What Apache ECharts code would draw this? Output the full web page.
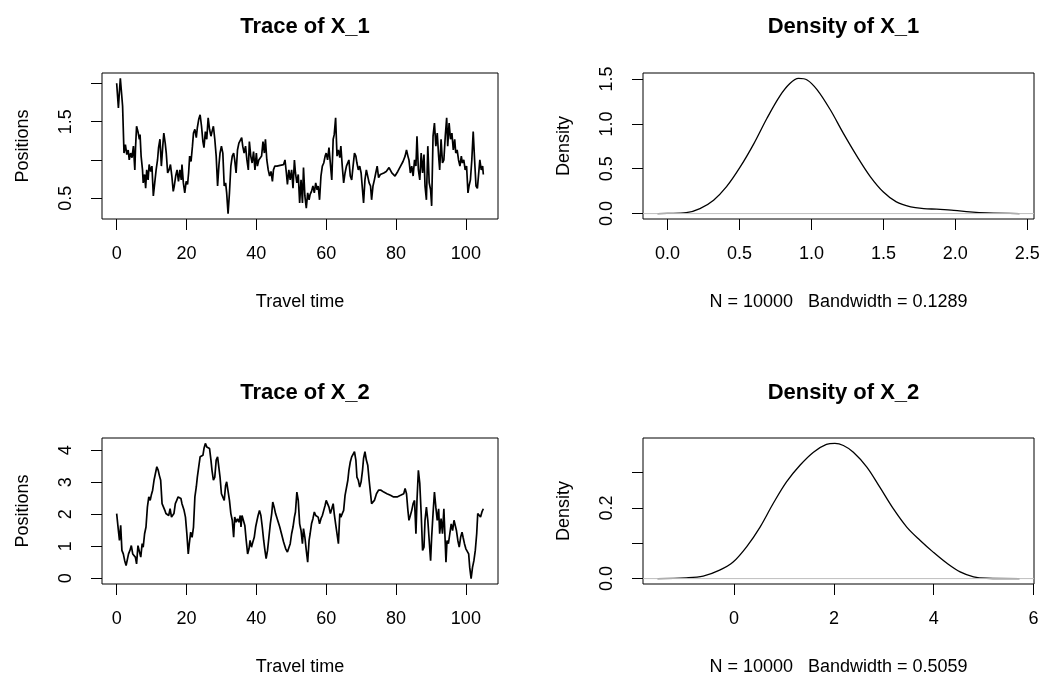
<!DOCTYPE html>
<html>
<head>
<meta charset="utf-8">
<title>MCMC diagnostics</title>
<script src="https://cdn.jsdelivr.net/npm/echarts@6/dist/echarts.min.js"></script>
<style>
  html, body { margin: 0; padding: 0; background: #fff; }
  #chart { width: 1047px; height: 677px; }
</style>
</head>
<body>
<div id="chart"></div>
<script>
// ---- Trace of X_1: travel time vs. position ----
const time1 = [0,0.5,0.8,1.05,1.4,1.7,2.1,2.5,2.9,3.3,3.6,4.0,4.4,4.8,5.2,5.4,5.7,6.1,6.5,6.7,7.0,7.4,7.6,8.0,8.3,8.6,9.0,9.3,9.75,10.1,10.5,10.9,11.3,11.7,12.0,12.4,12.8,13.2,13.5,13.9,14.2,14.6,15.0,15.4,15.8,16.2,16.5,16.9,17.3,17.7,18.1,18.5,18.7,19.1,19.5,19.9,20.3,20.6,20.9,21.3,21.7,22.0,22.4,22.8,23.1,23.5,23.9,24.3,24.7,25.0,25.4,25.8,26.2,26.6,27.0,27.3,27.7,28.1,28.5,28.9,29.3,29.6,30.0,30.4,30.8,31.2,31.5,31.9,32.3,32.7,33.1,33.5,33.8,34.2,34.6,35.0,35.4,35.8,36.1,36.5,36.9,37.3,37.7,38.0,38.4,38.8,39.2,39.6,40.0,40.3,40.7,41.1,41.5,41.9,42.3,42.6,43.0,43.4,43.8,44.2,44.6,44.9,45.3,45.9,46.8,47.8,48.2,48.6,48.9,49.3,49.7,50.1,50.5,50.9,51.2,51.6,52.0,52.4,52.8,53.2,53.5,53.9,54.3,54.7,55.1,55.4,55.8,56.2,56.6,57.0,57.4,57.7,58.1,58.5,58.9,59.3,59.7,60.0,60.4,60.8,61.2,61.6,62.0,62.3,62.7,63.1,63.5,63.9,64.2,64.6,65.0,65.4,65.8,66.2,66.5,66.9,67.3,67.7,68.1,68.5,68.8,69.2,69.6,70.0,70.4,70.7,71.1,71.5,71.9,72.3,72.7,73.0,73.4,73.8,74.2,74.6,75.0,75.5,76.5,77.2,78.0,78.8,79.7,80.5,81.3,82.0,82.6,83.0,83.4,83.7,84.1,84.5,84.9,85.3,85.7,86.0,86.4,86.8,87.2,87.6,88.0,88.3,88.7,89.1,89.5,89.9,90.2,90.6,91.0,91.4,91.8,92.2,92.5,92.9,93.3,93.7,94.1,94.5,94.8,95.2,95.6,96.0,96.4,96.8,97.1,97.5,97.9,98.3,98.7,99.0,99.4,99.8,100.2,100.6,100.9,101.3,101.7,102.1,102.5,102.9,103.3,103.6,104.0,104.4,104.8,105.0];
const pos1 = [2.0,1.68,1.9,2.064,1.87,1.7,1.09,1.2,1.07,1.13,1.0,1.09,1.03,1.18,0.87,1.16,1.44,1.37,1.27,1.33,1.05,0.87,0.7,0.81,0.63,0.87,0.74,0.94,0.85,0.92,0.53,0.7,0.87,1.0,1.16,1.27,0.92,1.18,1.35,1.22,1.09,0.83,0.87,0.94,0.79,0.59,0.66,0.79,0.87,0.72,0.87,0.74,0.94,0.7,0.57,0.72,0.68,0.83,1.05,0.98,1.18,1.35,1.4,1.29,1.42,1.53,1.59,1.44,1.24,1.16,1.37,1.27,1.55,1.4,1.31,1.37,1.44,1.27,1.05,0.66,0.94,1.09,1.18,1.09,0.66,0.7,0.57,0.30,0.57,0.92,1.05,1.09,1.0,0.83,1.13,1.22,1.2,1.29,1.18,1.09,1.18,1.0,0.87,1.24,1.05,0.96,1.11,0.87,1.09,0.92,1.0,1.0,1.05,1.24,1.09,1.27,1.0,0.87,0.79,0.85,0.72,0.87,0.92,0.92,0.93,0.94,1.0,0.83,0.68,0.87,0.74,0.87,0.63,1.0,0.83,0.7,0.81,0.44,0.74,0.44,0.9,0.53,0.37,0.57,0.48,0.55,0.59,0.66,0.57,0.7,0.61,0.66,0.48,0.79,0.92,0.96,1.05,1.09,1.0,1.16,1.18,0.74,1.27,1.33,1.55,1.05,1.13,1.03,1.18,0.92,0.7,0.83,0.92,0.9,1.0,0.79,0.74,0.92,1.09,1.05,0.96,0.87,0.92,0.83,0.61,0.44,0.74,0.87,0.87,0.7,0.66,0.48,0.66,0.74,0.83,0.92,0.77,0.81,0.83,0.85,0.9,0.83,0.79,0.85,0.92,0.98,1.05,1.13,1.05,1.0,0.83,0.92,0.79,1.0,0.92,1.31,0.87,0.74,1.09,0.83,1.07,0.66,0.48,1.18,0.7,0.61,0.4,1.31,1.48,1.18,1.35,1.05,0.87,1.27,0.96,1.0,1.31,1.55,1.18,1.48,1.27,1.35,1.13,1.27,1.09,1.13,1.0,0.92,1.05,0.96,1.0,0.87,0.92,0.57,0.66,0.74,1.0,1.37,1.0,0.66,0.63,0.63,1.0,0.87,0.92,0.81];

// ---- Trace of X_2 ----
const time2 = [0,0.5,0.8,1.15,1.5,1.9,2.3,2.7,3.1,3.4,3.8,4.2,4.6,5.0,5.35,5.7,6.1,6.5,6.9,7.3,7.6,8.0,8.4,8.8,9.2,9.6,9.9,10.3,10.7,11.1,11.5,11.9,12.2,12.6,13.0,13.4,13.8,14.1,14.5,14.9,15.3,15.7,16.1,16.4,16.8,17.2,17.6,18.0,18.4,18.7,19.3,19.7,20.1,20.5,20.8,21.2,21.6,22.0,22.4,22.8,23.1,23.5,23.9,24.3,24.7,25.0,25.4,25.8,26.2,26.6,27.0,27.3,27.7,28.1,28.5,28.9,29.3,29.6,30.0,30.4,30.8,31.2,31.5,31.9,32.3,32.7,33.1,33.5,33.8,34.2,34.6,35.0,35.4,35.6,35.9,36.3,36.7,37.1,37.5,37.9,38.2,38.6,39.0,39.4,39.8,40.2,40.5,40.9,41.3,41.7,42.1,42.4,42.8,43.2,43.6,44.0,44.4,44.7,45.1,45.5,46.1,46.7,47.2,47.8,48.4,48.9,49.3,49.7,50.1,50.5,50.9,51.2,51.6,52.0,52.4,52.8,53.2,53.5,53.9,54.3,54.7,55.1,55.4,55.8,56.2,56.6,57.0,57.4,57.7,58.1,58.5,58.9,59.3,59.7,60.0,60.4,60.8,61.2,61.6,62.0,62.3,62.7,63.1,63.5,63.9,64.2,64.6,65.0,65.4,65.8,66.2,66.5,66.9,67.3,67.7,68.1,68.5,68.8,69.2,69.6,70.0,70.4,70.7,71.1,71.5,71.9,72.3,72.7,73.0,73.4,73.8,74.4,75.0,75.7,76.5,77.4,78.4,79.3,80.3,81.3,82.2,82.6,83.0,83.4,83.7,84.1,84.5,84.9,85.3,85.7,86.0,86.4,86.8,87.2,87.6,88.0,88.3,88.7,89.1,89.5,89.9,90.2,90.6,91.0,91.4,91.8,92.2,92.5,92.9,93.3,93.7,94.1,94.3,94.6,95.0,95.4,95.8,96.2,96.6,96.9,97.3,97.7,98.1,98.5,98.9,99.2,99.6,100.0,100.4,100.8,101.1,101.5,101.9,102.3,102.7,103.1,103.4,103.8,104.2,104.6,105.0];
const pos2 = [2.02,1.49,1.18,1.65,0.87,0.76,0.55,0.4,0.4,0.76,0.87,1.02,0.76,0.71,0.66,0.45,1.02,0.97,0.66,1.08,0.97,1.39,1.6,2.22,2.54,2.43,2.59,2.75,3.06,3.27,3.48,3.37,3.22,3.06,2.33,2.28,2.12,2.02,2.07,1.96,2.17,1.91,1.96,2.02,2.33,2.43,2.54,2.59,2.49,2.33,2.12,1.91,1.39,0.76,1.08,1.44,1.28,1.6,2.54,2.85,3.16,3.48,3.79,3.84,3.84,4.05,4.21,4.1,4.16,4.05,3.69,3.37,3.06,3.16,3.69,3.79,3.74,3.16,2.64,2.59,2.43,2.9,3.01,2.96,2.43,2.02,1.81,1.28,1.91,1.75,1.86,1.75,1.96,1.6,1.96,2.02,1.65,1.18,0.76,0.92,1.18,0.97,1.13,1.28,1.6,1.81,1.96,2.12,1.96,1.6,1.18,0.92,0.61,0.87,1.28,1.7,2.02,2.38,2.22,2.02,1.81,1.6,1.39,1.13,0.92,0.82,0.87,1.08,1.39,1.6,1.91,2.07,2.69,2.43,1.7,1.49,1.08,1.55,1.28,0.87,0.5,1.18,1.39,1.7,1.86,2.07,1.96,2.02,1.91,1.7,1.86,1.96,2.12,2.28,2.43,2.38,2.22,2.02,2.17,2.33,2.02,1.7,1.39,1.08,2.02,1.91,2.02,2.12,2.59,2.64,3.06,3.37,3.63,3.79,3.84,3.95,3.69,3.16,3.06,2.85,3.01,3.37,3.74,3.95,3.69,3.53,3.06,2.64,2.33,2.28,2.43,2.64,2.75,2.75,2.69,2.64,2.59,2.54,2.54,2.59,2.64,2.8,2.64,2.12,1.81,1.96,2.12,2.33,2.43,1.39,2.43,3.37,2.96,2.02,0.87,0.97,1.81,2.22,1.81,1.18,0.55,1.28,2.02,2.69,2.22,1.81,2.17,1.39,1.86,1.39,2.17,1.08,0.5,1.18,1.08,1.39,1.7,1.49,1.81,1.86,1.49,1.18,0.97,1.28,1.44,1.28,1.08,0.92,0.97,0.76,0.34,-0.01,0.34,0.55,0.87,1.39,2.02,1.96,1.91,2.07,2.17];

// ---- Kernel density estimates ----
const dens1X = [-0.07,0.0,0.13,0.225,0.32,0.41,0.505,0.6,0.69,0.78,0.85,0.91,0.97,1.04,1.13,1.22,1.32,1.41,1.5,1.59,1.69,1.78,1.87,1.99,2.1,2.22,2.446];
const dens1Y = [0,0.002,0.01,0.056,0.15,0.3,0.52,0.78,1.06,1.31,1.45,1.507,1.49,1.38,1.16,0.9,0.63,0.41,0.24,0.13,0.075,0.056,0.049,0.037,0.019,0.007,0];
const dens2X = [-1.536,-0.96,-0.62,-0.29,-0.02,0.25,0.52,0.78,1.05,1.32,1.59,1.85,2.02,2.19,2.39,2.66,2.92,3.19,3.46,3.73,3.99,4.26,4.53,4.8,5.06,5.72];
const dens2Y = [0,0.002,0.007,0.024,0.047,0.09,0.146,0.212,0.274,0.321,0.358,0.38,0.383,0.377,0.358,0.316,0.259,0.198,0.146,0.108,0.075,0.044,0.019,0.005,0.001,0];

// ---- Tick positions and labelled ticks ----
const traceXTicks = [0, 20, 40, 60, 80, 100];
const trace1YTicks = [0.5, 1.0, 1.5, 2.0];
const trace1YLabels = [0.5, 1.5];
const trace2YTicks = [0, 1, 2, 3, 4];
const dens1XTicks = [0, 0.5, 1.0, 1.5, 2.0, 2.5];
const dens1YTicks = [0, 0.5, 1.0, 1.5];
const dens2XTicks = [0, 2, 4, 6];
const dens2YTicks = [0, 0.1, 0.2, 0.3];
const dens2YLabels = [0, 0.2];

const titles = ['Trace of X_1', 'Density of X_1', 'Trace of X_2', 'Density of X_2'];
const xNames = ['Travel time', 'N = 10000   Bandwidth = 0.1289', 'Travel time', 'N = 10000   Bandwidth = 0.5059'];
const yNames = ['Positions', 'Density', 'Positions', 'Density'];

const FONT = "'Liberation Sans', Arial, Helvetica, sans-serif";

// R-style axis limits: data range widened by 4% on each side
function padRange(arr) {
  const lo = Math.min(...arr), hi = Math.max(...arr);
  const d = (hi - lo) * 0.04;
  return [lo - d, hi + d];
}

const pairs = (xs, ys) => xs.map((x, i) => [x, ys[i]]);
const fmt1 = v => v.toFixed(1);
const fmt0 = v => String(Math.round(v));

const panels = [
  { xs: time1, ys: pos1, xt: traceXTicks, xl: traceXTicks, yt: trace1YTicks, yl: trace1YLabels, xf: fmt0, yf: fmt1, dens: false },
  { xs: dens1X, ys: dens1Y, xt: dens1XTicks, xl: dens1XTicks, yt: dens1YTicks, yl: dens1YTicks, xf: fmt1, yf: fmt1, dens: true },
  { xs: time2, ys: pos2, xt: traceXTicks, xl: traceXTicks, yt: trace2YTicks, yl: trace2YTicks, xf: fmt0, yf: fmt0, dens: false },
  { xs: dens2X, ys: dens2Y, xt: dens2XTicks, xl: dens2XTicks, yt: dens2YTicks, yl: dens2YLabels, xf: fmt0, yf: fmt1, dens: true }
];

const boxes = [
  { left: 102, top: 73, width: 396, height: 146 },
  { left: 643, top: 73, width: 391, height: 146 },
  { left: 102, top: 438, width: 396, height: 146 },
  { left: 643, top: 438, width: 391, height: 146 }
];

const labelStyle = { color: '#000', fontFamily: FONT, fontSize: 18 };
const tickStyle = { show: true, inside: false, length: 11, lineStyle: { color: '#000', width: 1 } };

const grid = [], xAxis = [], yAxis = [], series = [], title = [];

panels.forEach((p, i) => {
  const b = boxes[i];
  grid.push(Object.assign({ show: true, borderColor: '#000', borderWidth: 1, backgroundColor: 'transparent', containLabel: false }, b));
  const xr = padRange(p.xs), yr = padRange(p.ys);
  xAxis.push({
    type: 'value', gridIndex: i, position: 'bottom', min: xr[0], max: xr[1],
    splitLine: { show: false }, axisLine: { show: false, onZero: false },
    axisTick: Object.assign({ customValues: p.xt }, tickStyle),
    axisLabel: Object.assign({ customValues: p.xl, margin: 26, formatter: p.xf }, labelStyle),
    name: xNames[i], nameLocation: 'middle', nameGap: 74,
    nameTextStyle: labelStyle
  });
  yAxis.push({
    type: 'value', gridIndex: i, position: 'left', min: yr[0], max: yr[1],
    splitLine: { show: false }, axisLine: { show: false, onZero: false },
    axisTick: Object.assign({ customValues: p.yt }, tickStyle),
    axisLabel: Object.assign({ customValues: p.yl, margin: 27, rotate: 90, formatter: p.yf }, labelStyle),
    name: yNames[i], nameLocation: 'middle', nameGap: 70,
    nameTextStyle: labelStyle
  });
  series.push({
    type: 'line', xAxisIndex: i, yAxisIndex: i,
    data: pairs(p.xs, p.ys), symbol: 'none', smooth: p.dens ? 0.35 : false,
    lineStyle: { color: '#000', width: p.dens ? 1.3 : 1.7 },
    z: 2, silent: true
  });
  if (p.dens) {
    // zero reference line across the whole plotting box
    series.push({
      type: 'line', xAxisIndex: i, yAxisIndex: i,
      data: [[xr[0], 0], [xr[1], 0]], symbol: 'none',
      lineStyle: { color: '#bebebe', width: 1 }, z: 3, silent: true
    });
  }
  title.push({
    text: titles[i],
    left: b.left + b.width / 2,
    top: i < 2 ? 11 : 377,
    textAlign: 'center',
    textStyle: { color: '#000', fontFamily: FONT, fontSize: 22, fontWeight: 'bold' }
  });
});

const chart = echarts.init(document.getElementById('chart'), null, { renderer: 'canvas' });
chart.setOption({
  animation: false,
  backgroundColor: '#fff',
  title, grid, xAxis, yAxis, series
});
</script>
</body>
</html>
